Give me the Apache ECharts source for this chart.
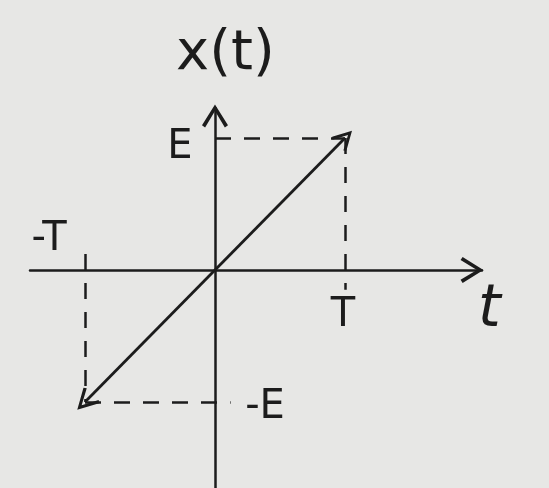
<!DOCTYPE html>
<html>
<head>
<meta charset="utf-8">
<script src="https://cdn.jsdelivr.net/npm/echarts@6/dist/echarts.min.js"></script>
<style>
html,body{margin:0;padding:0;background:#e7e7e5;}
#c{width:549px;height:488px;}
</style>
</head>
<body>
<div id="c"></div>
<script>
// ---- data ----
const T = 1, E = 1;
const rampX = [-T, T];
const rampY = [-E, E];
const dashFrom = [[0, E], [T, E], [-T, 0.12], [-T, -E]];
const dashTo = [[T, E], [T, -0.15], [-T, -E], [0.12, -E]];
const labelNames = ['E', '-T', 'T', '-E'];
const labelCoords = [[0, E], [-T, 0], [T, 0], [0, -E]];
const axisNames = ['t', 'x(t)'];

// ---- styles ----
const ink = '#1c1c1c';
const chevron = 'path://M10,0 L20,16 L17.6,17.6 L10,5 L2.4,17.6 L0,16 Z';
const labelOffsets = [[-35, 10], [-36, -30], [-2, 46], [50, 6]];
const font = 'DejaVu Sans';

const chart = echarts.init(document.getElementById('c'));
chart.setOption({
  backgroundColor: '#e7e7e5',
  animation: false,
  grid: {left: 30, right: 67, top: 108, bottom: 0},
  xAxis: {
    type: 'value', min: -1.423, max: 2.054,
    splitLine: {show: false}, axisTick: {show: false}, axisLabel: {show: false},
    axisLine: {onZero: true, lineStyle: {color: ink, width: 2.5},
      symbol: ['none', chevron], symbolSize: [26, 24], symbolOffset: [0, -10]}
  },
  yAxis: {
    type: 'value', min: -1.652, max: 1.227,
    splitLine: {show: false}, axisTick: {show: false}, axisLabel: {show: false},
    axisLine: {onZero: true, lineStyle: {color: ink, width: 2.5},
      symbol: ['none', chevron], symbolSize: [26, 24], symbolOffset: [0, -8]}
  },
  graphic: [
    {type: 'text', left: 176, top: 26, style: {text: axisNames[1], font: '56px "' + font + '"', fill: ink}},
    {type: 'text', left: 478, top: 282, style: {text: axisNames[0], font: 'italic 58px "' + font + '"', fill: ink}}
  ],
  series: [
    {
      type: 'lines', coordinateSystem: 'cartesian2d', silent: true,
      symbol: [chevron, chevron], symbolSize: [22, 20],
      lineStyle: {color: ink, width: 2.8, opacity: 1},
      data: [{coords: [[rampX[0], rampY[0]], [rampX[1], rampY[1]]]}]
    },
    {
      type: 'lines', coordinateSystem: 'cartesian2d', silent: true,
      lineStyle: {color: ink, width: 2.5, opacity: 1, type: [16, 13]},
      data: dashFrom.map((f, i) => ({coords: [f, dashTo[i]]}))
    },
    {
      type: 'scatter', symbolSize: 0, silent: true,
      itemStyle: {opacity: 1},
      data: labelCoords.map((c, i) => ({
        value: c,
        label: {show: true, formatter: labelNames[i], position: 'inside',
          offset: labelOffsets[i], color: ink, fontSize: 40, fontFamily: font}
      }))
    }
  ]
});
</script>
</body>
</html>
